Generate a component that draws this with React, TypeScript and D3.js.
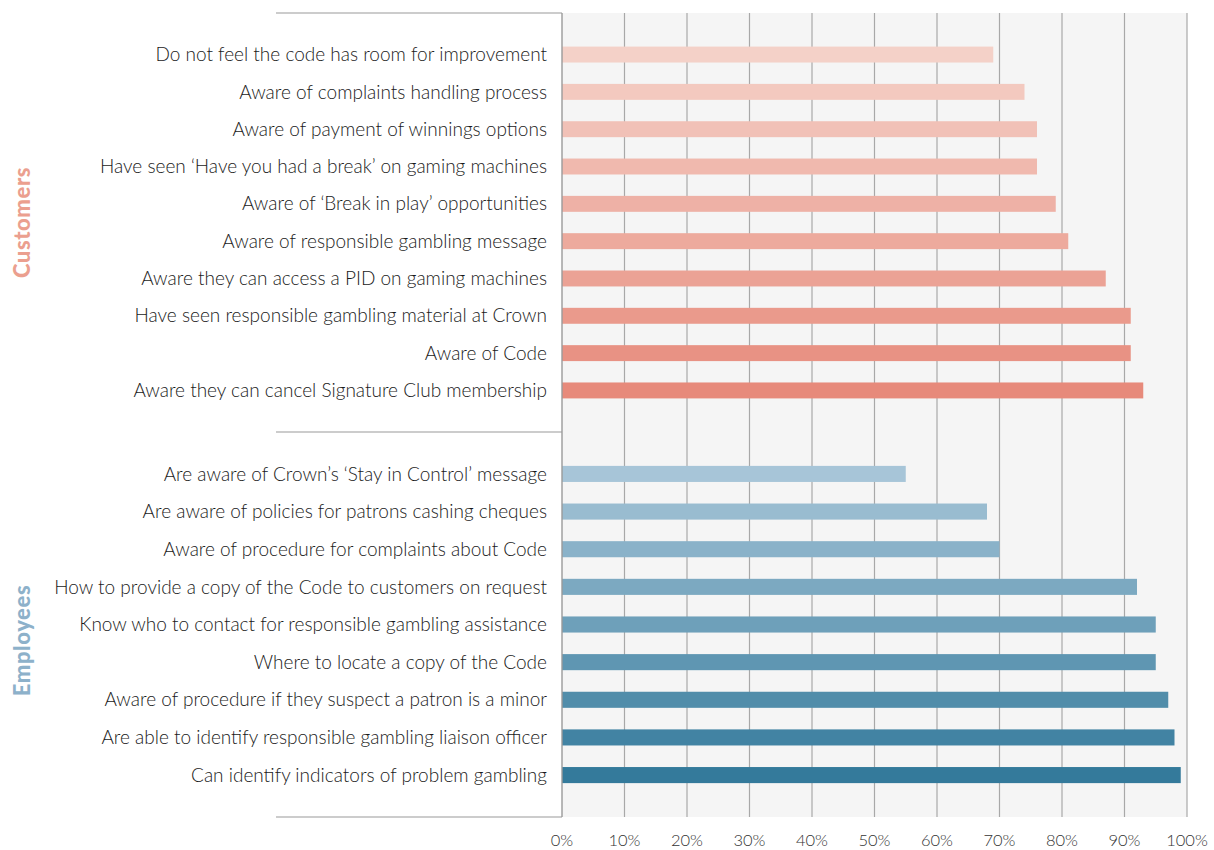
import React from 'react';
import * as d3 from 'd3';

// survey results, percent agreeing
const customerLabels = [
  'Do not feel the code has room for improvement',
  'Aware of complaints handling process',
  'Aware of payment of winnings options',
  'Have seen \u2018Have you had a break\u2019 on gaming machines',
  'Aware of \u2018Break in play\u2019 opportunities',
  'Aware of responsible gambling message',
  'Aware they can access a PID on gaming machines',
  'Have seen responsible gambling material at Crown',
  'Aware of Code',
  'Aware they can cancel Signature Club membership',
];
const customerValues = [69, 74, 76, 76, 79, 81, 87, 91, 91, 93];

const employeeLabels = [
  'Are aware of Crown\u2019s \u2018Stay in Control\u2019 message',
  'Are aware of policies for patrons cashing cheques',
  'Aware of procedure for complaints about Code',
  'How to provide a copy of the Code to customers on request',
  'Know who to contact for responsible gambling assistance',
  'Where to locate a copy of the Code',
  'Aware of procedure if they suspect a patron is a minor',
  'Are able to identify responsible gambling liaison officer',
  'Can identify indicators of problem gambling',
];
const employeeValues = [55, 68, 70, 92, 95, 95, 97, 98, 99];

const xTicks = [0, 10, 20, 30, 40, 50, 60, 70, 80, 90, 100];

const W = 1214;
const H = 850;
const FONT = 'Lato, "Open Sans", sans-serif';

const App = () => {
  const left = 562;
  const right = 1187;
  const top = 13;
  const split = 432;
  const bottom = 817;
  const ruleLeft = 276;

  const x = d3.scaleLinear().domain([0, 100]).range([left, right]);

  const groups = [
    {
      name: 'Customers',
      labels: customerLabels,
      values: customerValues,
      range: [top, split],
      colors: d3.interpolateRgb('#f4d1c8', '#e78a7b'),
      titleColor: '#eb9f8f',
      titleShift: 0,
    },
    {
      name: 'Employees',
      labels: employeeLabels,
      values: employeeValues,
      range: [split, bottom],
      colors: d3.interpolateRgb('#a7c5d8', '#347a9b'),
      titleColor: '#8db1ca',
      titleShift: 16,
    },
  ];

  return (
    <svg width={W} height={H} style={{ position: 'absolute', left: 0, top: 0, background: '#fff' }}>
      <rect x={left} y={top} width={right - left} height={bottom - top} fill="#f5f5f5" />

      {/* grid */}
      {xTicks.slice(1).map(t => (
        <line key={'g' + t} x1={x(t)} x2={x(t)} y1={top} y2={bottom} stroke="#a8a8a8" strokeWidth={1.2} />
      ))}

      {groups.map(g => {
        const y = d3.scaleBand().domain(g.labels).range(g.range as [number, number])
          .paddingInner(0.573).paddingOuter(0.9);
        const n = g.labels.length;
        return (
          <g key={g.name}>
            {g.labels.map((lab, i) => (
              <g key={lab}>
                <rect x={x(0)} y={y(lab)} width={x(g.values[i]) - x(0)} height={y.bandwidth()}
                  fill={g.colors(n > 1 ? i / (n - 1) : 0)} />
                <text x={left - 15} y={(y(lab) ?? 0) + y.bandwidth() / 2} dy="0.35em" textAnchor="end"
                  fontFamily={FONT} fontWeight={300} fontSize={19} fill="#1a1a1a">{lab}</text>
              </g>
            ))}
            <text transform={`translate(30,${(g.range[0] + g.range[1]) / 2 + g.titleShift}) rotate(-90)`}
              textAnchor="middle" fontFamily={FONT} fontWeight={900} fontSize={22} letterSpacing={0.6}
              fill={g.titleColor}>
              {g.name}
            </text>
          </g>
        );
      })}

      {/* section rules */}
      {[top, split, bottom].map(v => (
        <line key={'r' + v} x1={ruleLeft} x2={left} y1={v} y2={v} stroke="#9a9a9a" strokeWidth={1.2} />
      ))}
      <line x1={left} x2={left} y1={top} y2={bottom} stroke="#9a9a9a" strokeWidth={1.4} />

      {/* x axis labels */}
      {xTicks.map(t => (
        <text key={'t' + t} x={x(t)} y={840} dy="0.35em" textAnchor="middle"
          fontFamily={FONT} fontWeight={300} fontSize={16.5} fill="#333">{t + '%'}</text>
      ))}
    </svg>
  );
};

export default App;
